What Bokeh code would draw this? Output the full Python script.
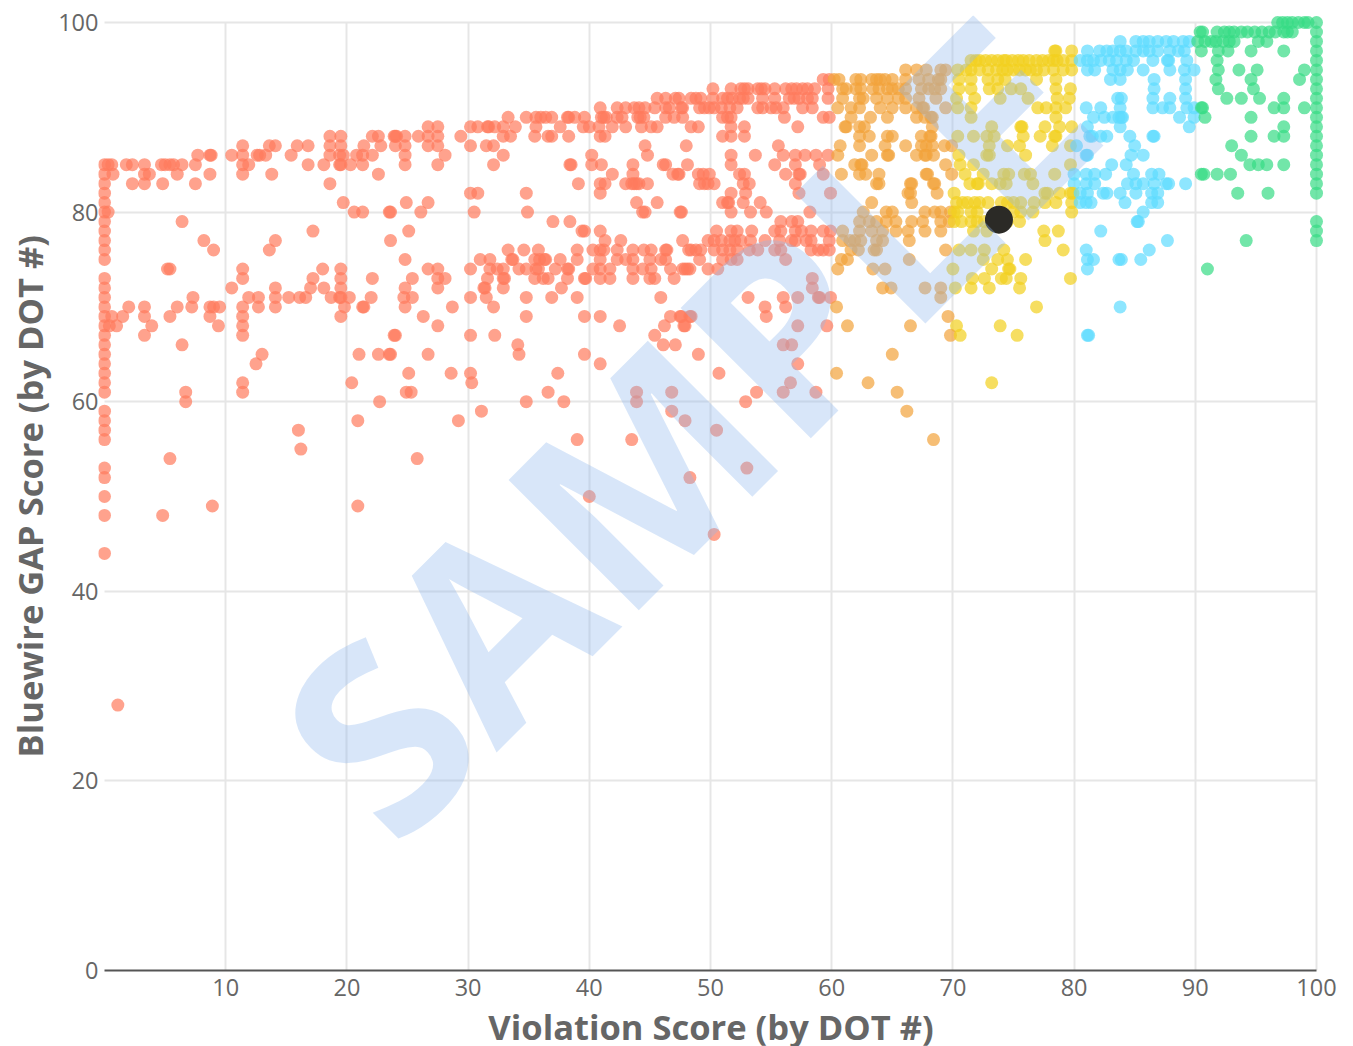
from bokeh.plotting import figure
from bokeh.models import ColumnDataSource, FixedTicker, Range1d, Label, Title
from bokeh.embed import file_html
from bokeh.resources import INLINE

# Each list: violation scores (x) of the points whose GAP score (y) is the number in the name.
gap_100 = [96.8,97.2,97.6,98,98.5,99,99.3,100]
gap_99 = [90.4,90.6,91.8,92.4,92.8,93.2,93.8,94.3,94.9,95.5,96.1,96.6,97.3,97.6,98,100]
gap_98 = [83.8,85.1,85.7,86.2,86.9,87.6,88.2,89,89.5,90.2,90.8,91.3,91.7,92.3,92.8,93.2,95.2,95.9,100]
gap_97 = [78.4,78.5,79.8,81.1,82.1,82.7,83.2,83.8,84.3,85.1,85.7,86.2,86.9,87.9,88.6,89.1,90.5,91.9,92.7,94.6,97.3,100]
gap_96 = [71.5,71.9,72.2,72.7,73.2,73.7,74.2,74.4,74.9,75.4,75.8,76.3,76.9,77.4,77.9,78.3,78.6,79.1,79.8,80.5,81.1,81.6,82.2,82.9,83.5,84.3,84.9,86.5,87.7,87.8,89.3,91.8,100]
gap_95 = [66.1,67,67.8,69,69.4,70.4,71.1,71.5,72.2,72.9,73.6,74.1,74.5,75,75.5,76,76.4,76.9,77.5,78.3,79.1,79.8,81.1,81.7,83.2,83.8,84.4,85.7,87.9,89.1,89.9,91.9,93.6,95.1,99,100]
gap_94 = [59.3,59.8,60.2,60.6,62,62.4,63.3,63.7,64,64.4,65,66.1,67.2,68,68.8,69,70.5,71.5,72.9,73.7,74.3,76.9,78.5,83,83.8,86.6,89.2,91.7,94.6,98.6,100]
gap_93 = [50.2,51.7,52.5,52.8,53.1,53.9,54.2,54.5,55.3,56.2,56.7,57.1,57.6,58,58.6,59.7,60.9,61.2,62,62.4,63.4,63.9,64.6,65,65.5,66.1,67.4,68,68.5,69,70.5,71.5,73,73.7,74.8,75.6,78.5,79.7,86.6,89.2,91.9,94.8,100]
gap_92 = [45.6,46.3,47.1,47.4,48.4,48.8,49.2,50.2,51,51.4,51.8,52.4,52.7,53.1,54.3,55.3,56.5,56.9,57.3,58,58.4,59.7,60.9,62.3,62.6,63.7,64.6,65.5,66.1,67.2,68.6,70.3,71.8,73.9,76.2,78.6,79.6,83.6,83.9,86.5,87.9,89.2,92.6,93.8,95.3,97.3,100]
gap_91 = [40.9,42.3,43,43.7,44.1,44.6,45.4,46.3,46.6,47.6,47.7,49.1,49.5,49.9,50.3,50.9,51.6,52.2,53.9,54.3,55,55.4,56,57.6,58.4,60.5,61.6,62.3,64,65,66.1,67,67.5,67.6,69.4,70.4,71.5,77,77.7,78.5,79.3,81,82.2,83.8,86.5,87.3,87.9,89.3,89.9,90.5,90.6,96.5,97.3,99,100]
gap_90 = [33.3,34.8,35.6,36,36.4,36.9,38.2,38.3,38.8,39.6,41,41.2,41.4,42.3,42.7,44,44.2,44.5,46.3,47,47.7,51,51.4,51.7,56.1,59.3,59.8,61.6,63.2,64.6,67,67.7,68.2,68.3,71.5,78.5,81.6,82.5,83.2,83.7,83.9,84,88.7,89.9,90.8,94.6,100]
gap_89 = [26.7,27.5,30.2,30.8,31.6,31.7,32.2,32.9,33.9,35.6,37.6,39.5,40,40.8,41.9,43,44.3,45.1,45.6,48.4,49,51.7,52.8,57.2,61.1,61.2,62.3,62.7,68.3,73.2,75.6,75.7,77.6,78.8,79.8,81.1,83.8,89.5,97.3,100]
gap_88 = [18.6,19.5,22.1,22.6,23.9,24,24.1,24.8,25.9,26.7,27.5,29.4,32.9,33.5,35.5,36.6,36.9,38.3,40.9,41.3,51,51.7,52.8,62.3,63.1,64.6,65,67.4,68.1,68.2,70.4,71.7,72.8,73.4,75.8,77.2,78.4,78.5,81.3,81.5,82.2,82.7,84.6,86.5,86.6,94.6,96.5,97.3,100]
gap_87 = [11.4,13.6,14.1,15.9,16.8,18.6,19.5,21.4,22.8,24,24.8,26.7,27.5,30.2,31.5,32.1,44.6,48,55.6,60.7,62.3,64.4,66.1,67.4,67.8,68.3,69.3,69.9,73,74.5,75.5,78.2,79.7,80.2,85,93,100]
gap_86 = [7.7,8.7,8.8,10.5,11.4,12.6,12.8,13.3,15.4,18.6,19.4,19.7,20.8,21.3,22.1,24.8,28.1,32.9,40.2,44.8,51.7,53.7,56,57,57.8,58.7,59.7,60.5,63.3,64.6,64.7,67,67.7,67.8,68.4,70.5,72.8,73,76,81,81.1,84.7,85.7,93.8,100]
gap_85 = [0,0.3,0.6,1.8,2.3,3.3,4.7,5,5.4,5.7,6.4,7.5,11.4,11.9,16.8,18.1,19.4,19.5,20.3,21.3,24.8,27.5,32.1,38.4,38.5,40.2,41,43.6,46.1,46.3,48.1,51.7,55.3,57,59,61.9,62.4,62.5,69.4,70.6,71.7,79.7,83.1,84.3,94.5,95.2,95.9,97.3,100]
gap_84 = [0,0.7,3.3,3.7,6,8.7,11.4,13.8,22.6,41.9,43.6,46.9,47.3,47.4,49,49.4,49.9,52.4,52.8,56.2,57.3,57.4,59.3,60.8,62.3,62.8,63.9,67.8,67.9,69.9,71,72.5,74.2,74.6,75.9,76.4,78.4,80,81,81.7,82.6,84.9,86.4,87,90.5,90.7,91.8,92.9,100]
gap_83 = [0,2.3,3.3,4.8,7.5,18.6,39.1,40.9,41.3,43,43.5,43.7,43.9,44.1,44.8,49.1,49.5,49.8,50.3,52.7,53.2,57,63.7,63.9,66.5,66.6,68.4,68.5,71.4,72,72.1,73.2,73.9,74.4,76.6,80,81,81.7,84.4,85.1,85.7,86.6,87.6,87.8,89.2,100]
gap_82 = [0,30.2,30.8,34.8,40.9,51.7,52.9,57.3,59.9,66.3,66.5,68.7,70.1,77.6,77.8,78.8,79.7,79.9,80.5,81.1,82.4,82.7,83.8,85.1,86.4,86.9,93.5,96,100]
gap_81 = [0,19.7,24.9,26.7,43.9,45.6,51,51.4,51.5,52.7,54.1,63.3,66.6,70.3,70.8,71.2,71.8,72.2,72.9,74,74.5,75,75.6,76.7,77.6,78.5,79.8,80.5,81,81.4,84.2,86.4,86.9]
gap_80 = [0,0.3,20.6,21.3,23.5,23.6,26.1,30.5,34.9,44.4,44.6,47.5,47.6,51.7,53.3,54.6,58.2,62.6,64.5,65,67.7,68.5,69,69.8,70.1,70.4,71.5,72,75,75.6,76.6,79.8,85.7]
gap_79 = [0,6.4,37,38.4,55.8,56.7,57.2,62.3,63.1,63.7,64.5,65.3,66.6,67.5,69,69.7,70.1,70.7,71.5,72,72.6,74.5,75.5,85.2,85.3,100]
gap_78 = [0,17.2,25.1,39.4,39.6,40.9,50.5,51.7,52.2,53.4,55.3,55.8,57,57.5,58.3,59.3,59.9,60.9,62.3,63.3,64.2,65.3,66.3,67.7,69,71.7,72.8,77.5,78.7,82.2,100]
gap_77 = [0,8.2,14.1,23.6,41.3,42.6,47.7,49.8,50.3,50.9,51.6,52,52.5,53.3,54.5,55.7,56.7,57,57.9,58.3,59.8,60.9,61.5,61.9,62.4,63.7,64.2,66.4,77.6,87.7,94.2,100]
gap_76 = [0,9,13.6,33.3,34.6,35.8,39,40.3,40.9,41.2,42.3,43.6,44.5,45.1,46.3,46.4,48.2,48.4,48.8,49.2,50.3,51,51.6,52.2,53.2,53.9,55.3,55.8,58.3,58.9,59.3,59.8,61.6,62.2,63.5,63.7,69.4,70.5,71.5,72.6,74.2,79.1,81,86.2]
gap_75 = [0,24.8,31,31.8,33.6,33.7,35.5,35.9,36.3,36.4,37.6,39,40.9,42.3,43,43.6,45,45.9,46.3,49.1,51,51.7,52.2,56.2,60.8,61.3,66.4,72.5,73.7,74.5,76,81.1,81.6,83.7,83.9,85.5]
gap_74 = [5.2,5.4,11.4,18,19.5,26.7,27.5,30.2,31.8,32.4,32.9,34.2,34.8,35.6,35.8,37.2,38.2,38.3,40.3,40.9,41.7,43.6,44.4,45.1,46.7,47.7,47.9,48.1,48.3,49.8,50.6,60.5,63.4,64.4,70,73.2,74.6,74.7,81.1,91]
gap_73 = [0,11.4,17.2,19.5,22.1,25.4,27.5,28.1,31.6,32.9,33,35.5,36.2,36.6,38.2,39.6,39.7,40.9,41.7,43.6,45,45.4,47,58.4,71.6,72.6,74,74.4,75.6,79.7]
gap_72 = [0,10.5,14.1,17,18.1,19.5,24.8,27.5,31.3,31.4,32.9,37.7,58.4,64.2,64.9,67.7,69,70.2,71.5,73,75.5]
gap_71 = [0,7.3,11.9,12.7,14.1,15.2,16.1,16.6,18.7,19.4,19.5,20.2,22,24.7,25.4,30.2,31.5,34.8,36.9,39,45.9,53.1,56,57.2,58.9,59,59.9,69]
gap_70 = [0,2,3.3,6,7.2,8.7,9,9.5,11.4,12.7,14.1,19.8,21.3,21.4,24.8,28.7,32.1,54.5,56.2,60.4,76.9,83.8]
gap_69 = [0,0.6,1.5,3.3,5.4,8.7,11.4,19.5,26.3,34.8,39.6,40.9,46.7,47.5,47.6,48.3,48.4,54.6,69.6]
gap_68 = [0,0.4,1,3.9,9.4,11.4,27.5,42.5,46.2,47.8,47.9,57.2,59.6,61.3,66.5,70.3,73.9]
gap_67 = [0,3.3,11.4,23.9,24,30.2,32.2,45.4,69.8,70.6,75.3,81.1,81.2]
gap_66 = [0,6.4,34.1,46.1,47.1,56,56.7]
gap_65 = [0,13,21,22.6,23.5,23.6,26.7,34.2,39.6,49,65]
gap_64 = [0,12.5,40.9,57.2]
gap_63 = [0,25.1,28.6,30.2,37.4,50.7,60.4]
gap_62 = [0,11.4,20.4,30.3,56.6,63,73.2]
gap_61 = [0,6.7,11.4,24.9,25.3,36.6,43.9,46.8,53.8,56,58.7,65.4]
gap_60 = [6.7,22.7,34.8,37.9,43.9,52.9]
gap_59 = [0,31.1,46.8,66.2]
gap_58 = [0,20.9,29.2,47.9]
gap_57 = [0,16,50.5]
gap_56 = [0,39,43.5,68.4]
gap_55 = [16.2]
gap_54 = [5.4,25.8]
gap_53 = [0,53]
gap_52 = [0,48.3]
gap_50 = [0,40]
gap_49 = [8.9,20.9]
gap_48 = [0,4.8]
gap_46 = [50.3]
gap_44 = [0]
gap_28 = [1.1]

rows = {100:gap_100,99:gap_99,98:gap_98,97:gap_97,96:gap_96,95:gap_95,94:gap_94,93:gap_93,92:gap_92,
        91:gap_91,90:gap_90,89:gap_89,88:gap_88,87:gap_87,86:gap_86,85:gap_85,84:gap_84,83:gap_83,
        82:gap_82,81:gap_81,80:gap_80,79:gap_79,78:gap_78,77:gap_77,76:gap_76,75:gap_75,74:gap_74,
        73:gap_73,72:gap_72,71:gap_71,70:gap_70,69:gap_69,68:gap_68,67:gap_67,66:gap_66,65:gap_65,
        64:gap_64,63:gap_63,62:gap_62,61:gap_61,60:gap_60,59:gap_59,58:gap_58,57:gap_57,56:gap_56,
        55:gap_55,54:gap_54,53:gap_53,52:gap_52,50:gap_50,49:gap_49,48:gap_48,46:gap_46,44:gap_44,28:gap_28}

band_edges = [60, 70, 80, 90, 101]
band_colors = ["#ff7a5c", "#f2a23a", "#f2d01e", "#5edcff", "#36dc84"]
highlight_x = [73.8]
highlight_y = [79.2]
x_ticks = [10,20,30,40,50,60,70,80,90,100]
y_ticks = [0,20,40,60,80,100]

xs, ys, cs = [], [], []
for y, row in rows.items():
    for x in row:
        for edge, col in zip(band_edges, band_colors):
            if x < edge:
                xs.append(x); ys.append(y); cs.append(col)
                break

PX = 12.12
PY = 9.48
p = figure(width=1337, height=1045, output_backend="svg", toolbar_location=None,
           x_range=Range1d(-6/PX, 100 + 7/PX), y_range=Range1d(0, 100 + 7/PY),
           frame_width=1225, frame_height=955,
           min_border_left=97, min_border_right=15, min_border_top=15, min_border_bottom=75,
           outline_line_color=None, background_fill_color="white")

for ax in (p.xaxis[0], p.yaxis[0]):
    ax.major_tick_line_color = None
    ax.minor_tick_line_color = None
    ax.major_tick_out = 0
    ax.major_tick_in = 0
    ax.minor_tick_out = 0
    ax.minor_tick_in = 0
    ax.major_label_text_font = "Open Sans"
    ax.major_label_text_font_size = "23.5px"
    ax.major_label_text_color = "#666666"
    ax.axis_label_text_font = "Open Sans"
    ax.axis_label_text_font_size = "34.5px"
    ax.axis_label_text_font_style = "bold"
    ax.axis_label_text_color = "#666666"
    ax.bounds = (0, 100)

p.xaxis[0].ticker = FixedTicker(ticks=x_ticks)
p.yaxis[0].ticker = FixedTicker(ticks=y_ticks)
p.xaxis[0].axis_label = "Violation Score (by DOT #)"
p.xaxis[0].axis_line_color = "#555555"
p.xaxis[0].axis_line_width = 2
p.yaxis[0].axis_line_color = None
p.xaxis[0].major_label_standoff = 8
p.yaxis[0].major_label_standoff = 0
p.xaxis[0].axis_label_standoff = 4

p.xgrid[0].ticker = FixedTicker(ticks=x_ticks)
p.ygrid[0].ticker = FixedTicker(ticks=y_ticks)
for g in (p.xgrid[0], p.ygrid[0]):
    g.bounds = (0, 100)
    g.cross_bounds = (0, 100)
    g.grid_line_color = "#e6e6e6"
    g.grid_line_width = 2

src = ColumnDataSource(dict(x=xs, y=ys, c=cs))
p.scatter("x", "y", source=src, size=13, color="c", fill_alpha=0.7, line_color=None)
p.scatter(highlight_x, highlight_y, size=28, fill_color="#2b2a26", fill_alpha=1.0, line_color=None)

p.add_layout(Title(text="Bluewire GAP Score (by DOT #)", align="left", offset=213,
                   text_font="Open Sans", text_font_style="bold", text_font_size="34.5px",
                   text_color="#666666", standoff=6), "left")

p.add_layout(Label(x=47.85, y=57.74, text="SAMPLE", angle=45, angle_units="deg",
                   text_align="center", text_baseline="middle",
                   text_font="Open Sans", text_font_style="bold", text_font_size="258px",
                   text_color="#90b8ee", text_alpha=0.35))

open("out.html", "w").write(file_html(p, INLINE))
